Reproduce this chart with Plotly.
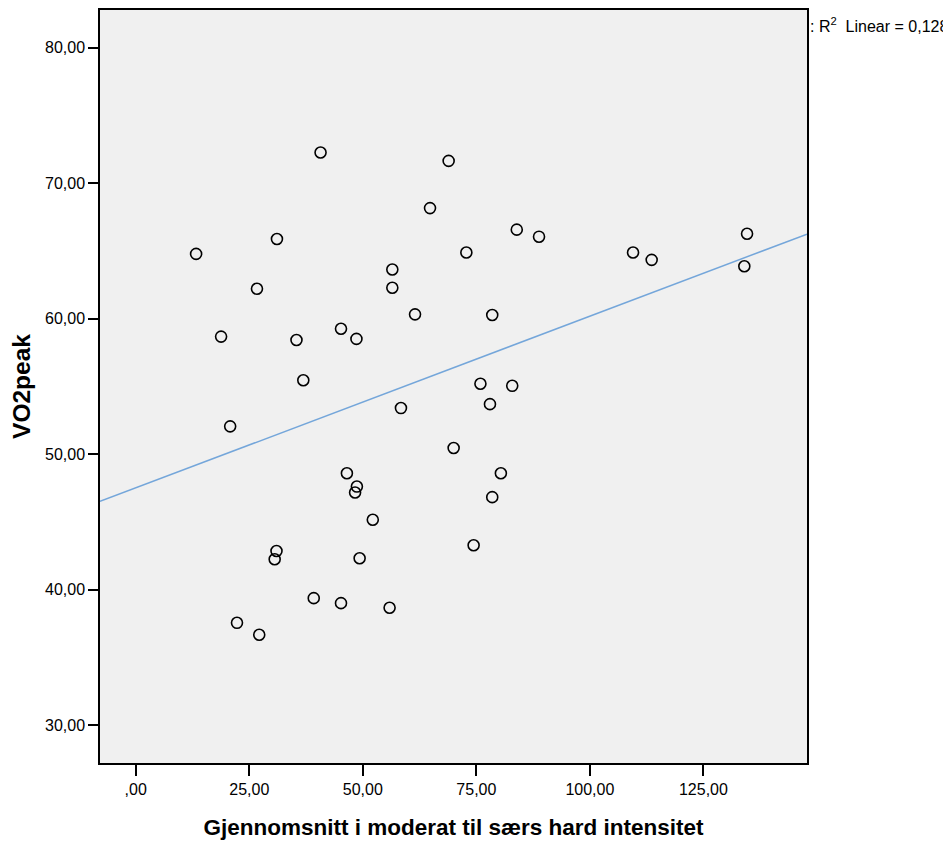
import numpy as np
import plotly.graph_objects as go

# Data
x_vals = [13.3, 18.8, 20.8, 22.3, 26.7, 27.2, 31.1, 31.0, 30.6, 35.4,
          36.9, 40.7, 39.2, 45.2, 45.2, 48.6, 46.5, 48.7, 48.3, 52.2,
          49.3, 55.9, 56.5, 56.5, 61.5, 58.4, 64.8, 68.9, 72.8, 70.0,
          78.5, 75.9, 82.9, 78.0, 80.4, 78.5, 74.4, 83.9, 88.8, 109.5,
          113.6, 134.6, 134.0]
y_vals = [64.78, 58.68, 52.06, 37.57, 62.21, 36.69, 65.88, 42.87, 42.26, 58.43,
          55.46, 72.26, 39.39, 59.26, 39.02, 58.51, 48.60, 47.62, 47.18, 45.17,
          42.33, 38.68, 63.63, 62.28, 60.32, 53.41, 68.16, 71.64, 64.88, 50.46,
          60.27, 55.20, 55.05, 53.70, 48.60, 46.84, 43.29, 66.57, 66.05, 64.88,
          64.34, 66.27, 63.87]

x_tickvals = [0, 25, 50, 75, 100, 125]
x_ticktext = [",00", "25,00", "50,00", "75,00", "100,00", "125,00"]
y_tickvals = [30, 40, 50, 60, 70, 80]
y_ticktext = ["30,00", "40,00", "50,00", "60,00", "70,00", "80,00"]

x_title = "Gjennomsnitt i moderat til særs hard intensitet"
y_title = "VO2peak"
r2_label = ": R<sup>2</sup>&nbsp; Linear = 0,128"

x_range = [-7.86, 147.8]
y_range = [27.23, 82.77]

# Linear fit from the data
slope, intercept = np.polyfit(x_vals, y_vals, 1)
line_x = np.array(x_range)
line_y = intercept + slope * line_x

FONT = "Liberation Sans, Arial, sans-serif"

fig = go.Figure()
fig.add_trace(go.Scatter(
    x=line_x, y=line_y, mode="lines",
    line=dict(color="#74a6da", width=1.5),
    hoverinfo="skip", showlegend=False,
))
fig.add_trace(go.Scatter(
    x=x_vals, y=y_vals, mode="markers",
    marker=dict(symbol="circle-open", size=11, color="black",
                line=dict(color="black", width=1.6)),
    showlegend=False,
))

fig.update_layout(
    width=943, height=837,
    margin=dict(l=92, r=144, t=0, b=82, pad=0),
    paper_bgcolor="white",
    plot_bgcolor="#f0f0f0",
    font=dict(family=FONT, color="black", size=16),
    xaxis=dict(
        range=x_range, tickvals=x_tickvals, ticktext=x_ticktext,
        showgrid=False, zeroline=False,
        showline=True, mirror=True, linecolor="black", linewidth=1.5,
        ticks="outside", ticklen=11, tickwidth=2, tickcolor="black",
        tickfont=dict(size=16),
        title=dict(text="<b>" + x_title + "</b>", font=dict(size=22.5), standoff=22),
    ),
    yaxis=dict(
        range=y_range, tickvals=y_tickvals, ticktext=y_ticktext,
        showgrid=False, zeroline=False,
        showline=True, mirror=True, linecolor="black", linewidth=1.5,
        ticks="outside", ticklen=10, tickwidth=2, tickcolor="black",
        tickfont=dict(size=16),
        title=dict(text="<b>" + y_title + "</b>", font=dict(size=24.5), standoff=8),
    ),
    annotations=[dict(
        text=r2_label, xref="paper", yref="paper",
        x=1.0015, y=0.9805, xanchor="left", yanchor="middle",
        showarrow=False, font=dict(size=16, color="black"),
    )],
)

fig.write_html("out.html")
